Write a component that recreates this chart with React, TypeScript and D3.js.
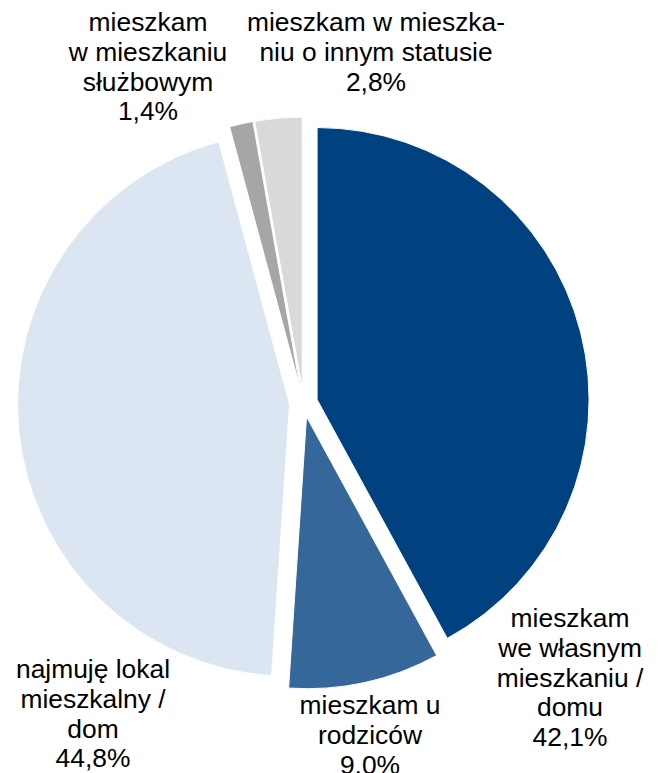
import React from "react";
import * as d3 from "d3";

const categories = [
  "mieszkam we własnym mieszkaniu / domu",
  "mieszkam u rodziców",
  "najmuję lokal mieszkalny / dom",
  "mieszkam w mieszkaniu służbowym",
  "mieszkam w mieszkaniu o innym statusie",
];
const values = [42.1, 9.0, 44.8, 1.4, 2.8];
const valueLabels = ["42,1%", "9,0%", "44,8%", "1,4%", "2,8%"];
const labelLines = [
  ["mieszkam", "we własnym", "mieszkaniu /", "domu"],
  ["mieszkam u", "rodziców"],
  ["najmuję lokal", "mieszkalny /", "dom"],
  ["mieszkam", "w mieszkaniu", "służbowym"],
  ["mieszkam w mieszka-", "niu o innym statusie"],
];
const colors = ["#00417F", "#35679A", "#DCE6F2", "#A6A6A6", "#D9D9D9"];

// label anchor (center x, first baseline y)
const labelPos: [number, number][] = [
  [570, 627],
  [370, 714],
  [93, 678],
  [148, 31],
  [376, 31],
];

export default function App() {
  const W = 658;
  const H = 773;
  const cx = 303.5;
  const cy = 403;
  const r = 272;
  const explode = 14;
  const lineH = 29.8;

  const pie = d3
    .pie<number>()
    .sort(null)
    .value((d) => d)
    .startAngle(0)
    .endAngle(2 * Math.PI);
  const arcs = pie(values);
  const arc = d3.arc<d3.PieArcDatum<number>>().innerRadius(0).outerRadius(r);

  return (
    <svg
      width={W}
      height={H}
      style={{ position: "absolute", left: 0, top: 0, background: "#fff" }}
      fontFamily="'Liberation Sans', Arial, sans-serif"
    >
      <g transform={`translate(${cx},${cy})`}>
        {arcs.map((a, i) => {
          const mid = (a.startAngle + a.endAngle) / 2;
          const dx = Math.sin(mid) * explode;
          const dy = -Math.cos(mid) * explode;
          return (
            <path
              key={categories[i]}
              d={arc(a) || ""}
              transform={`translate(${dx},${dy})`}
              fill={colors[i]}
              stroke="#fff"
              strokeWidth={1}
            />
          );
        })}
      </g>
      {labelLines.map((lines, i) => {
        const [x, y] = labelPos[i];
        const all = [...lines, valueLabels[i]];
        return (
          <text key={i} x={x} y={y} textAnchor="middle" fontSize={26.4} fill="#000">
            {all.map((t, j) => (
              <tspan key={j} x={x} y={y + j * lineH}>
                {t}
              </tspan>
            ))}
          </text>
        );
      })}
    </svg>
  );
}
